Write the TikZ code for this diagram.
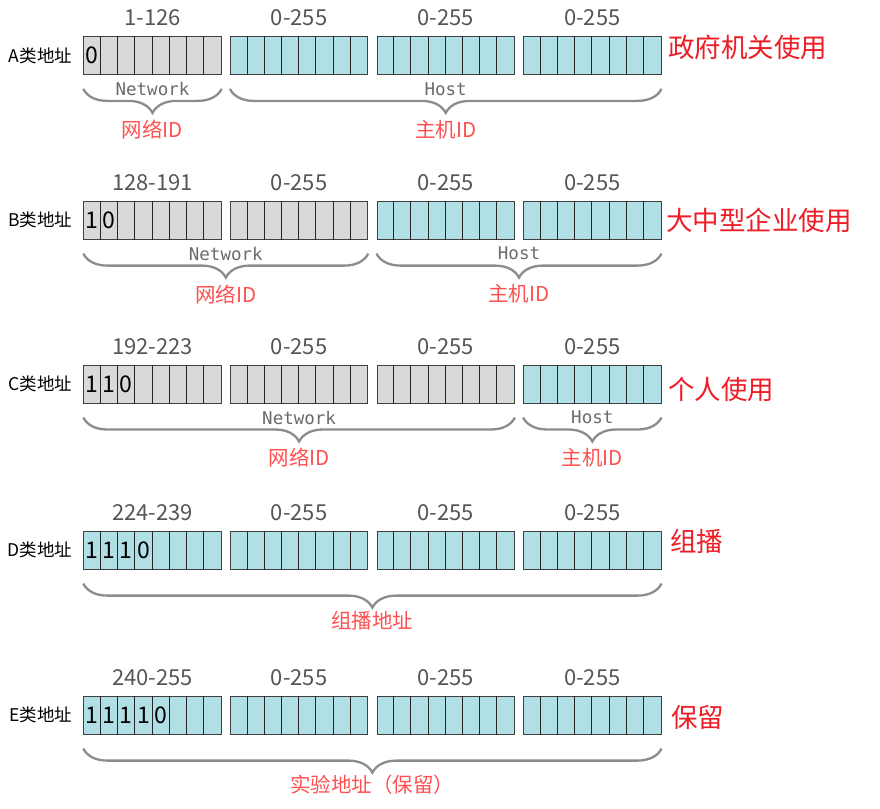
\documentclass[tikz,border=0pt]{standalone}
\usepackage{fontspec}
\setmainfont{Noto Sans CJK SC}
\newfontfamily\monof{DejaVu Sans Mono}
\usetikzlibrary{decorations.pathreplacing,calc}
\definecolor{cellgray}{HTML}{D9D9D9}
\definecolor{cellblue}{HTML}{B0E0E6}
\definecolor{numgray}{HTML}{555555}
\definecolor{bracegray}{HTML}{8C8C8C}
\definecolor{monogray}{HTML}{6A6A6A}
\definecolor{lightred}{HTML}{FF4F4F}
\definecolor{strongred}{HTML}{EE1C25}
\begin{document}
\begin{tikzpicture}[x=1pt,y=-1pt,
  octet/.style={draw=black!75, line width=0.9pt, minimum width=137.5pt, minimum height=38pt, inner sep=0pt, anchor=north west},
  cellline/.style={draw=black!85, line width=0.9pt},
  bitlbl/.style={font=\fontsize{23}{23}\selectfont, text=black, inner sep=0pt},
  rangelbl/.style={font=\fontsize{22}{22}\selectfont, text=numgray, inner sep=0pt},
  rowlbl/.style={font=\fontsize{17.5}{17.5}\selectfont, text=black, anchor=east, inner sep=0pt},
  uselbl/.style={font=\fontsize{26.5}{26.5}\selectfont, text=strongred, anchor=west, inner sep=0pt},
  partlbl/.style={font=\monof\fontsize{17.5}{17.5}\selectfont, text=monogray, inner sep=0pt},
  idlbl/.style={font=\fontsize{20.5}{20.5}\selectfont, text=lightred, inner sep=0pt},
  brc/.style={draw=bracegray, line width=2.3pt, decorate, decoration={brace, mirror, amplitude=24pt}}
]
\useasboundingbox (0,0) rectangle (880,808);

\foreach \r/\ty/\ng/\first/\bits in {A/36/1/1-126/{0}, B/200.7/2/128-191/{1,0}, C/364.6/3/192-223/{1,1,0}, D/530.7/0/224-239/{1,1,1,0}, E/695.7/0/240-255/{1,1,1,1,0}}{
  \foreach \k in {0,...,3}{
    \ifnum\k<\ng\relax \def\fc{cellgray}\else\def\fc{cellblue}\fi
    \node[octet, fill=\fc] (\r\k) at ({83.3+146.6*\k},\ty) {};
    \foreach \i in {1,...,7}
      \draw[cellline] ($(\r\k.north west)+({\i*17.1875},0)$) -- ($(\r\k.south west)+({\i*17.1875},0)$);
    \ifnum\k=0\relax
      \node[rangelbl] (\r rng\k) at ($(\r\k.north)+(0,-18)$) {\first};
    \else
      \node[rangelbl] (\r rng\k) at ($(\r\k.north)+(0,-18)$) {0-255};
    \fi
  }
  \foreach \b [count=\i] in \bits
    \node[bitlbl] (\r bit\i) at ($(\r0.west)+({\i*17.1875-8.6},0)$) {\b};
  \node[rowlbl] (\r lbl) at ($(\r0.west)+(-11,0)$) {\r 类地址};
}

% Row A
\draw[brc] ($(A0.south west)+(0,14)$) -- ($(A0.south east)+(0,14)$);
\node[partlbl] (Anet) at ($(A0.south)+(0,14)$) {Network};
\node[idlbl] (Anetid) at ($(A0.south)+(0,54.5)$) {网络ID};
\draw[brc] ($(A1.south west)+(0,14)$) -- ($(A3.south east)+(0,14)$);
\node[partlbl] (Ahost) at ($(A1.south west)!0.5!(A3.south east)+(0,14)$) {Host};
\node[idlbl] (Ahostid) at ($(A1.south west)!0.5!(A3.south east)+(0,54.5)$) {主机ID};
\node[uselbl] (Ause) at (668,47) {政府机关使用};

% Row B
\draw[brc] ($(B0.south west)+(0,14)$) -- ($(B1.south east)+(0,14)$);
\node[partlbl] (Bnet) at ($(B0.south west)!0.5!(B1.south east)+(0,14)$) {Network};
\node[idlbl] (Bnetid) at ($(B0.south west)!0.5!(B1.south east)+(0,54.5)$) {网络ID};
\draw[brc] ($(B2.south west)+(0,14)$) -- ($(B3.south east)+(0,14)$);
\node[partlbl] (Bhost) at ($(B2.south west)!0.5!(B3.south east)+(0,14)$) {Host};
\node[idlbl] (Bhostid) at ($(B2.south west)!0.5!(B3.south east)+(0,54.5)$) {主机ID};
\node[uselbl] (Buse) at (666,220) {大中型企业使用};

% Row C
\draw[brc] ($(C0.south west)+(0,14)$) -- ($(C2.south east)+(0,14)$);
\node[partlbl] (Cnet) at ($(C0.south west)!0.5!(C2.south east)+(0,14)$) {Network};
\node[idlbl] (Cnetid) at ($(C0.south west)!0.5!(C2.south east)+(0,54.5)$) {网络ID};
\draw[brc] ($(C3.south west)+(0,14)$) -- ($(C3.south east)+(0,14)$);
\node[partlbl] (Chost) at ($(C3.south)+(0,14)$) {Host};
\node[idlbl] (Chostid) at ($(C3.south)+(0,54.5)$) {主机ID};
\node[uselbl] (Cuse) at (668,389) {个人使用};

% Row D
\draw[brc] ($(D0.south west)+(0,14)$) -- ($(D3.south east)+(0,14)$);
\node[idlbl] (Did) at ($(D0.south west)!0.5!(D3.south east)+(0,51)$) {组播地址};
\node[uselbl] (Duse) at (670,541) {组播};

% Row E
\draw[brc] ($(E0.south west)+(0,14)$) -- ($(E3.south east)+(0,14)$);
\node[idlbl] (Eid) at ($(E0.south west)!0.5!(E3.south east)+(0,50)$) {实验地址（保留）};
\node[uselbl] (Euse) at (671,717) {保留};
\end{tikzpicture}
\end{document}
